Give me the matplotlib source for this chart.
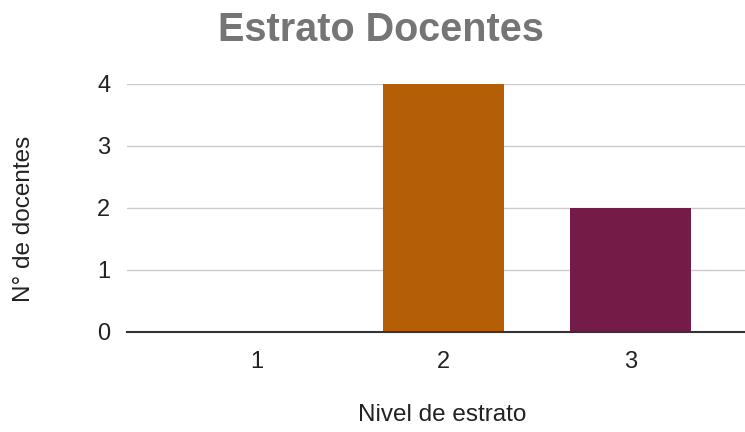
import matplotlib
matplotlib.use("Agg")
import matplotlib.pyplot as plt

categories = ["1", "2", "3"]
values = [0, 4, 2]
colors = ["#3D85C6", "#B45F06", "#741B47"]
yticks = [0, 1, 2, 3, 4]

plt.rcParams['font.family'] = ['Liberation Sans', 'DejaVu Sans']

W, H = 745, 432
fig = plt.figure(figsize=(W / 100, H / 100), dpi=100)
left, right, top, bottom = 127, 745, 84, 332
ax = fig.add_axes([left / W, 1 - bottom / H, (right - left) / W, (bottom - top) / H])

x = list(range(1, len(categories) + 1))
ax.bar(x, values, width=0.647, color=colors, zorder=3)

ax.set_xlim(0.306, 3.611)
ax.set_ylim(0, 4)
ax.set_yticks(yticks)
ax.set_xticks(x)
ax.set_xticklabels(categories)

for s in ["top", "right", "left"]:
    ax.spines[s].set_visible(False)
ax.spines["bottom"].set_color("#333333")
ax.spines["bottom"].set_linewidth(1.5)
ax.spines["bottom"].set_zorder(4)
ax.yaxis.grid(True, color="#cccccc", linewidth=1, zorder=0)
ax.tick_params(axis="both", length=0, labelsize=17, colors="#222222")
ax.tick_params(axis="y", pad=12)
ax.tick_params(axis="x", pad=14)

fig.text(381 / W, 1 - 30 / H, "Estrato Docentes", ha="center", va="center",
         fontsize=28.5, fontweight="bold", color="#757575")
fig.text(24 / W, 1 - 219 / H, "N° de docentes", ha="center", va="center",
         rotation=90, fontsize=17.5, color="#222222")
fig.text(442 / W, 1 - 415 / H, "Nivel de estrato", ha="center", va="center",
         fontsize=17.5, color="#222222")

fig.savefig("out.png", dpi=100, facecolor="white")
